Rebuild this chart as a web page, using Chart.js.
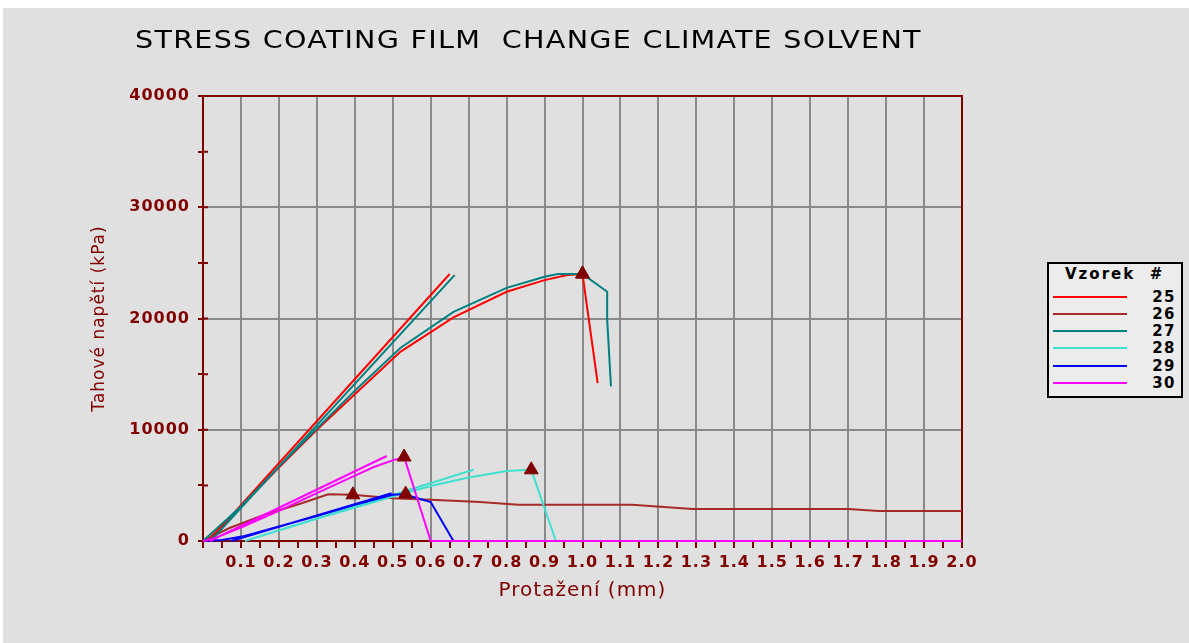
<!DOCTYPE html>
<html lang="cs">
<head>
<meta charset="utf-8">
<title>Stress coating film</title>
<script src="https://cdn.jsdelivr.net/npm/chart.js@4.4.1/dist/chart.umd.min.js"></script>
<style>
  html, body { margin: 0; padding: 0; background: #ffffff; width: 1189px; height: 643px; overflow: hidden; }
  #panel { position: absolute; left: 3px; top: 8px; width: 1186px; height: 635px; background: #e0e0e0; }
  #chart { position: absolute; left: 0; top: 0; }
  #title { position: absolute; left: 135px; top: 25px; font-family: "DejaVu Sans", sans-serif; font-stretch: condensed;
           font-size: 25px; letter-spacing: 1px; line-height: 30px; color: #000; white-space: pre; transform-origin: 0 0; }
  #legend { position: absolute; left: 1047px; top: 262px; width: 132px; height: 132px; border: 2px solid #000;
            background: #ececec; font-family: "DejaVu Sans", sans-serif; color: #000; }
  #legend .head { position: absolute; left: 16px; top: 1px; font-size: 15px; font-weight: bold; letter-spacing: 2px; white-space: pre; }
  #legend .row { position: absolute; left: 0; width: 132px; height: 18px; }
  #legend .swatch { position: absolute; left: 4px; top: 8px; width: 74px; height: 2px; }
  #legend .num { position: absolute; right: 5px; top: 0; font-size: 15px; font-weight: bold; letter-spacing: 1.5px; line-height: 18px; }
</style>
</head>
<body>
<div id="panel"></div>
<canvas id="chart" width="1189" height="643"></canvas>
<div id="title">STRESS COATING FILM  CHANGE CLIMATE SOLVENT</div>
<div id="legend"></div>
<script>
// Sample numbers (legend order)
const samples = ['25', '26', '27', '28', '29', '30'];

// Measured curves: elongation (mm) and tensile stress (kPa)
const strain25 = [0.01, 0.1, 0.2, 0.3, 0.4, 0.52, 0.66, 0.8, 0.9, 0.96, 1.0, 1.04];
const stress25 = [0, 3100, 6600, 10000, 13200, 17000, 20100, 22400, 23450, 23900, 24000, 14200];

const strain26 = [0, 0.07, 0.16, 0.26, 0.33, 0.395, 0.5, 0.6, 0.73, 0.83, 1.13, 1.29, 1.7, 1.78, 2.0];
const stress26 = [0, 1170, 2340, 3400, 4200, 4150, 3850, 3700, 3500, 3250, 3250, 2880, 2880, 2700, 2700];

const strain27 = [0, 0.1, 0.2, 0.3, 0.4, 0.52, 0.66, 0.8, 0.9, 0.935, 1.0, 1.065, 1.065, 1.075];
const stress27 = [0, 3100, 6700, 10100, 13500, 17350, 20600, 22750, 23750, 24000, 24000, 22400, 19900, 13900];

const strain28 = [0.11, 0.3, 0.5, 0.6, 0.7, 0.8, 0.865, 0.93, 2.0];
const stress28 = [0, 2000, 4000, 4950, 5700, 6300, 6400, 0, 0];

const strain29 = [0, 0.05, 0.11, 0.2, 0.3, 0.4, 0.5, 0.534, 0.55, 0.6, 0.66, 2.0];
const stress29 = [0, 100, 450, 1300, 2250, 3250, 4150, 4220, 4000, 3500, 0, 0];

const strain30 = [0, 0.03, 0.1, 0.2, 0.3, 0.376, 0.45, 0.5, 0.53, 0.6, 2.0];
const stress30 = [0, 250, 1200, 2700, 4300, 5500, 6650, 7250, 7550, 0, 0];

// Straight modulus lines (start and end point) for the samples that have one
const fitStrain25 = [0.015, 0.65];  const fitStress25 = [0, 24000];
const fitStrain27 = [0.02, 0.663];  const fitStress27 = [0, 23900];
const fitStrain28 = [0.11, 0.713];  const fitStress28 = [0, 6400];
const fitStrain29 = [0.074, 0.497]; const fitStress29 = [0, 4290];
const fitStrain30 = [0.018, 0.484]; const fitStress30 = [0, 7640];

// Index of the marked (break) point on each curve
const breakIndex = [10, 5, 10, 6, 7, 8];

// Axis ranges and tick steps
const strainMax = 2.0, strainStep = 0.05, strainLabelStep = 0.1;
const stressMax = 40000, stressStep = 5000, stressLabelStep = 10000;

const AXIS = '#800000';
const GRID = '#8a8a8a';
const NONE = 'rgba(0,0,0,0)';
const lineColors = ['#ff0000', '#a52a2a', '#008080', '#40e0d0', '#0000ff', '#ff00ff'];

const curves = [
  { strain: strain25, stress: stress25, fitStrain: fitStrain25, fitStress: fitStress25 },
  { strain: strain26, stress: stress26 },
  { strain: strain27, stress: stress27, fitStrain: fitStrain27, fitStress: fitStress27 },
  { strain: strain28, stress: stress28, fitStrain: fitStrain28, fitStress: fitStress28 },
  { strain: strain29, stress: stress29, fitStrain: fitStrain29, fitStress: fitStress29 },
  { strain: strain30, stress: stress30, fitStrain: fitStrain30, fitStress: fitStress30 }
];

const toPoints = (xs, ys) => xs.map((x, i) => ({ x: x, y: ys[i] }));

const datasets = samples.map((name, i) => {
  const c = curves[i];
  let pts = toPoints(c.strain, c.stress);
  if (c.fitStrain) {
    // a null point breaks the path between the curve and its modulus line
    pts = pts.concat([{ x: c.fitStrain[0], y: null }], toPoints(c.fitStrain, c.fitStress));
  }
  return {
    label: name,
    data: pts,
    borderColor: lineColors[i],
    backgroundColor: lineColors[i],
    borderWidth: 2,
    pointRadius: 0,
    tension: 0,
    spanGaps: false,
    fill: false,
    clip: 6,
    order: 10 - i
  };
});

datasets.push({
  label: '',
  data: curves.map((c, i) => ({ x: c.strain[breakIndex[i]], y: c.stress[breakIndex[i]] })),
  showLine: false,
  pointStyle: 'triangle',
  pointRadius: 8,
  pointBackgroundColor: AXIS,
  pointBorderColor: AXIS,
  pointBorderWidth: 1,
  clip: false,
  order: 0
});

const onStep = (v, step) => Math.abs(v / step - Math.round(v / step)) < 1e-6;

// plot frame and the short inner stubs of the stress ticks
const framePlugin = {
  id: 'frame',
  beforeDatasetsDraw(chart) {
    const { ctx, chartArea: a, scales } = chart;
    ctx.save();
    ctx.strokeStyle = AXIS;
    ctx.lineWidth = 2;
    ctx.beginPath();
    ctx.rect(a.left, a.top, a.right - a.left, a.bottom - a.top);
    scales.y.ticks.forEach(t => {
      const py = scales.y.getPixelForValue(t.value);
      ctx.moveTo(a.left, py);
      ctx.lineTo(a.left + 5, py);
    });
    ctx.stroke();
    ctx.restore();
  }
};

// slightly wider text run for the axis texts
const spacingPlugin = {
  id: 'spacing',
  beforeUpdate(chart) { chart.ctx.letterSpacing = '1px'; },
  beforeDraw(chart) { chart.ctx.letterSpacing = '1px'; }
};

const tickFont = { family: 'DejaVu Sans', size: 16, weight: 'bold' };

const chart = new Chart(document.getElementById('chart'), {
  type: 'line',
  data: { datasets: datasets },
  options: {
    responsive: false,
    animation: false,
    events: [],
    layout: { padding: { left: 0, top: 96, right: 227, bottom: 0 } },
    plugins: { legend: { display: false }, tooltip: { enabled: false }, title: { display: false } },
    scales: {
      x: {
        type: 'linear',
        min: 0,
        max: strainMax,
        afterFit(s) { s.height = 102; },
        ticks: {
          stepSize: strainStep,
          autoSkip: false,
          maxRotation: 0,
          minRotation: 0,
          color: AXIS,
          font: tickFont,
          padding: 5,
          callback: v => (v > 0 && onStep(v, strainLabelStep)) ? v.toFixed(1) : ''
        },
        grid: {
          color: c => (c.tick && c.tick.value > 0 && c.tick.value < strainMax && onStep(c.tick.value, strainLabelStep)) ? GRID : NONE,
          lineWidth: 2,
          tickColor: AXIS,
          tickWidth: 2,
          tickLength: 7
        },
        border: { color: AXIS, width: 2 },
        title: {
          display: true,
          text: 'Protažení (mm)',
          color: AXIS,
          font: { family: 'DejaVu Sans', size: 20 },
          padding: { top: 0, bottom: 40 }
        }
      },
      y: {
        type: 'linear',
        min: 0,
        max: stressMax,
        afterFit(s) { s.width = 203; },
        ticks: {
          stepSize: stressStep,
          color: AXIS,
          font: tickFont,
          padding: 8,
          callback: v => onStep(v, stressLabelStep) ? String(v) : ''
        },
        grid: {
          color: c => (c.tick && c.tick.value > 0 && c.tick.value < stressMax && onStep(c.tick.value, stressLabelStep)) ? GRID : NONE,
          lineWidth: 2,
          tickColor: AXIS,
          tickWidth: 2,
          tickLength: 5
        },
        border: { color: AXIS, width: 2 },
        title: {
          display: true,
          text: 'Tahové napětí (kPa)',
          color: AXIS,
          font: { family: 'DejaVu Sans', size: 17 },
          padding: { top: 89, bottom: 0 }
        }
      }
    }
  },
  plugins: [spacingPlugin, framePlugin]
});

// legend box built from the chart's own datasets
const legend = document.getElementById('legend');
const head = document.createElement('div');
head.className = 'head';
head.textContent = 'Vzorek  #';
legend.appendChild(head);
const rowTops = [24, 41, 58, 75, 93, 110];
chart.data.datasets.slice(0, samples.length).forEach((ds, i) => {
  const row = document.createElement('div');
  row.className = 'row';
  row.style.top = rowTops[i] + 'px';
  const sw = document.createElement('div');
  sw.className = 'swatch';
  sw.style.background = ds.borderColor;
  const num = document.createElement('div');
  num.className = 'num';
  num.textContent = ds.label;
  row.appendChild(sw);
  row.appendChild(num);
  legend.appendChild(row);
});

// stretch the heading to its full run width
const title = document.getElementById('title');
title.style.transform = 'scaleX(' + (787 / title.offsetWidth) + ')';
</script>
</body>
</html>
